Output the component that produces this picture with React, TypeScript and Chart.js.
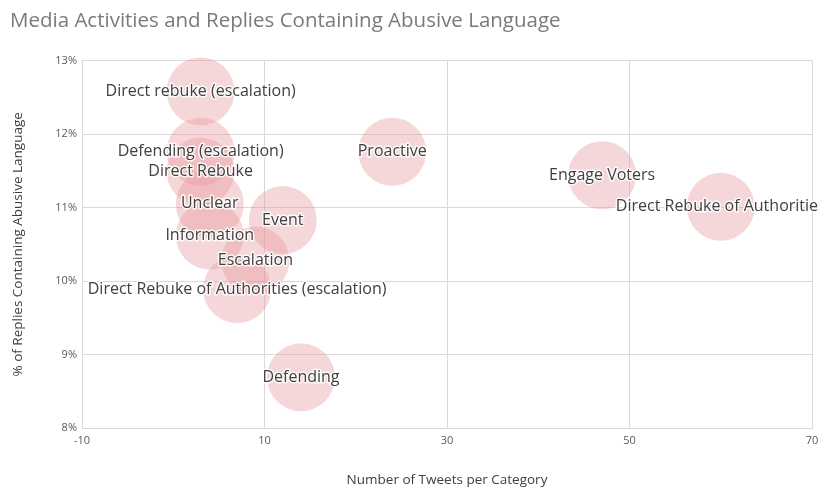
import React, { useEffect, useRef } from "react";
import { Chart, registerables } from "chart.js";

Chart.register(...registerables);

const categories = [
  "Direct rebuke (escalation)",
  "Defending (escalation)",
  "Direct Rebuke",
  "Unclear",
  "Information",
  "Escalation",
  "Direct Rebuke of Authorities (escalation)",
  "Event",
  "Defending",
  "Proactive",
  "Engage Voters",
  "Direct Rebuke of Authorities",
];
const tweetCounts = [3, 3, 3, 4, 4, 9, 7, 12, 14, 24, 47, 60];
const abusivePct = [12.58, 11.76, 11.49, 11.05, 10.62, 10.28, 9.89, 10.83, 8.69, 11.76, 11.44, 11.01];
const bubbleSizes = [34, 34, 34, 34, 34, 34, 34, 34, 34, 34, 34, 34];

const xTicks = [-10, 10, 30, 50, 70];
const yTicks = [8, 9, 10, 11, 12, 13];

const FONT = "'Open Sans', 'DejaVu Sans', sans-serif";

const labelPlugin = {
  id: "bubbleLabels",
  afterDatasetsDraw(chart: any) {
    const ctx = chart.ctx;
    const meta = chart.getDatasetMeta(0);
    ctx.save();
    ctx.font = `16px ${FONT}`;
    ctx.textAlign = "center";
    ctx.textBaseline = "middle";
    meta.data.forEach((el: any, i: number) => {
      const t = categories[i];
      ctx.lineJoin = "round";
      ctx.strokeStyle = "rgba(255,255,255,0.85)";
      ctx.lineWidth = 3;
      ctx.strokeText(t, el.x, el.y);
      ctx.fillStyle = "#404040";
      ctx.fillText(t, el.x, el.y);
    });
    ctx.restore();
  },
};

export default function App() {
  const ref = useRef<HTMLCanvasElement | null>(null);

  useEffect(() => {
    if (!ref.current) return;
    const chart = new Chart(ref.current, {
      type: "bubble",
      data: {
        datasets: [
          {
            label: "Media Activities",
            data: categories.map((_, i) => ({
              x: tweetCounts[i],
              y: abusivePct[i],
              r: bubbleSizes[i],
            })),
            backgroundColor: "rgba(232, 150, 156, 0.38)",
            borderWidth: 0,
          },
        ],
      },
      options: {
        animation: false,
        responsive: false,
        clip: false as any,
        layout: { autoPadding: false, padding: { left: 10, right: 7, top: 0, bottom: 0 } },
        plugins: {
          legend: { display: false },
          tooltip: { enabled: false },
          title: {
            display: true,
            text: "Media Activities and Replies Containing Abusive Language",
            align: "start",
            color: "#7a7a7a",
            font: { family: FONT, size: 20.5, weight: "normal", lineHeight: 1.2 },
            padding: { top: 9, bottom: 27 },
          },
        },
        scales: {
          x: {
            type: "linear",
            min: xTicks[0],
            max: xTicks[xTicks.length - 1],
            afterBuildTicks(scale: any) {
              scale.ticks = xTicks.map((v) => ({ value: v }));
            },
            afterFit(scale: any) {
              scale.height = 60;
              scale.paddingLeft = 0;
              scale.paddingRight = 0;
            },
            grid: { color: "#d9d9d9", drawTicks: false },
            border: { color: "#d9d9d9" },
            ticks: {
              color: "#595959",
              font: { family: FONT, size: 11 },
              padding: 6,
              maxRotation: 0,
            },
            title: {
              display: true,
              text: "Number of Tweets per Category",
              color: "#404040",
              font: { family: FONT, size: 13.5 },
              padding: { top: 0, bottom: 0 },
            },
          },
          y: {
            type: "linear",
            min: yTicks[0],
            max: yTicks[yTicks.length - 1],
            afterBuildTicks(scale: any) {
              scale.ticks = yTicks.map((v) => ({ value: v }));
            },
            afterFit(scale: any) {
              scale.width = 72;
            },
            grid: { color: "#d9d9d9", drawTicks: false },
            border: { color: "#d9d9d9" },
            ticks: {
              color: "#595959",
              font: { family: FONT, size: 11 },
              padding: 5,
              callback: (v: any) => `${v}%`,
            },
            title: {
              display: true,
              text: "% of Replies Containing Abusive Language",
              color: "#404040",
              font: { family: FONT, size: 13.5 },
              padding: { top: 0, bottom: 0 },
            },
          },
        },
      },
      plugins: [labelPlugin],
    });
    return () => chart.destroy();
  }, []);

  return (
    <div style={{ position: "absolute", left: 0, top: 0, width: 819, height: 488, background: "#fff" }}>
      <canvas ref={ref} width={819} height={488} style={{ display: "block" }} />
    </div>
  );
}
